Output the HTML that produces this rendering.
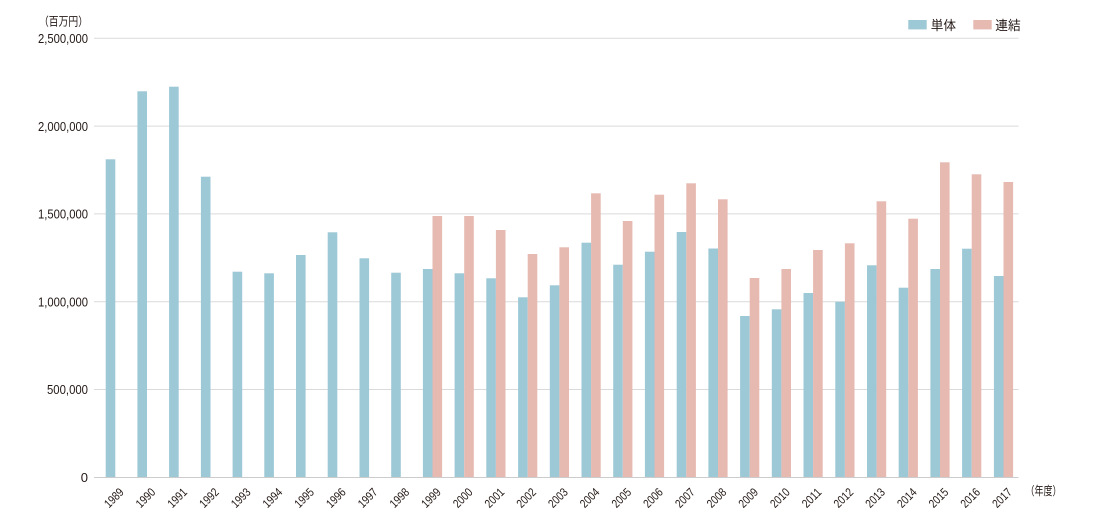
<!DOCTYPE html>
<html>
<head>
<meta charset="utf-8">
<style>
html,body{margin:0;padding:0;background:#fff;}
svg{display:block;}
text{font-family:"Liberation Sans Narrow","Liberation Sans","Noto Sans CJK JP",sans-serif;fill:#231815;}
.cjk{font-family:"Liberation Sans","Noto Sans CJK JP",sans-serif;}
</style>
</head>
<body>
<svg width="1100" height="520" viewBox="0 0 1100 520" xmlns="http://www.w3.org/2000/svg">
<!-- gridlines -->
<g stroke="#dadada" stroke-width="1">
<line x1="94" y1="38.3" x2="1018.5" y2="38.3"/>
<line x1="94" y1="126.1" x2="1018.5" y2="126.1"/>
<line x1="94" y1="213.9" x2="1018.5" y2="213.9"/>
<line x1="94" y1="301.7" x2="1018.5" y2="301.7"/>
<line x1="94" y1="389.5" x2="1018.5" y2="389.5"/>
</g>
<!-- y labels -->
<g font-size="13" text-anchor="end">
<text x="88" y="43" textLength="50" lengthAdjust="spacingAndGlyphs">2,500,000</text>
<text x="88" y="130.8" textLength="50" lengthAdjust="spacingAndGlyphs">2,000,000</text>
<text x="88" y="218.6" textLength="50" lengthAdjust="spacingAndGlyphs">1,500,000</text>
<text x="88" y="306.4" textLength="50" lengthAdjust="spacingAndGlyphs">1,000,000</text>
<text x="88" y="394.2" textLength="41" lengthAdjust="spacingAndGlyphs">500,000</text>
<text x="88" y="482">0</text>
</g>
<text class="cjk" x="39" y="25.5" font-size="12" textLength="49" lengthAdjust="spacingAndGlyphs">（百万円）</text>
<!-- blue bars -->
<g fill="#9dc8d6">
<rect x="105.7" y="159.3" width="9.6" height="318"/>
<rect x="137.4" y="91.3" width="9.6" height="386"/>
<rect x="169.1" y="86.7" width="9.6" height="390.6"/>
<rect x="200.9" y="176.7" width="9.6" height="300.6"/>
<rect x="232.6" y="271.7" width="9.6" height="205.6"/>
<rect x="264.3" y="273.3" width="9.6" height="204"/>
<rect x="296.0" y="255" width="9.6" height="222.3"/>
<rect x="327.7" y="232.3" width="9.6" height="245"/>
<rect x="359.5" y="258.3" width="9.6" height="219"/>
<rect x="391.2" y="272.7" width="9.6" height="204.6"/>
<rect x="422.9" y="269" width="9.6" height="208.3"/>
<rect x="454.6" y="273.3" width="9.6" height="204"/>
<rect x="486.3" y="278.3" width="9.6" height="199"/>
<rect x="518.1" y="297.3" width="9.6" height="180"/>
<rect x="549.8" y="285.3" width="9.6" height="192"/>
<rect x="581.5" y="242.7" width="9.6" height="234.6"/>
<rect x="613.2" y="264.7" width="9.6" height="212.6"/>
<rect x="644.9" y="251.7" width="9.6" height="225.6"/>
<rect x="676.7" y="232" width="9.6" height="245.3"/>
<rect x="708.4" y="248.5" width="9.6" height="228.8"/>
<rect x="740.1" y="316" width="9.6" height="161.3"/>
<rect x="771.8" y="309.3" width="9.6" height="168"/>
<rect x="803.5" y="293" width="9.6" height="184.3"/>
<rect x="835.3" y="301.7" width="9.6" height="175.6"/>
<rect x="867.0" y="265.3" width="9.6" height="212"/>
<rect x="898.7" y="287.7" width="9.6" height="189.6"/>
<rect x="930.4" y="269" width="9.6" height="208.3"/>
<rect x="962.1" y="248.7" width="9.6" height="228.6"/>
<rect x="993.9" y="276" width="9.6" height="201.3"/>
</g>
<!-- pink bars -->
<g fill="#e6b9b1">
<rect x="432.5" y="216" width="9.6" height="261.3"/>
<rect x="464.2" y="216" width="9.6" height="261.3"/>
<rect x="495.9" y="230" width="9.6" height="247.3"/>
<rect x="527.7" y="254" width="9.6" height="223.3"/>
<rect x="559.4" y="247.3" width="9.6" height="230"/>
<rect x="591.1" y="193.3" width="9.6" height="284"/>
<rect x="622.8" y="221" width="9.6" height="256.3"/>
<rect x="654.5" y="194.7" width="9.6" height="282.6"/>
<rect x="686.3" y="183.3" width="9.6" height="294"/>
<rect x="718.0" y="199.3" width="9.6" height="278"/>
<rect x="749.7" y="278" width="9.6" height="199.3"/>
<rect x="781.4" y="269" width="9.6" height="208.3"/>
<rect x="813.1" y="250" width="9.6" height="227.3"/>
<rect x="844.9" y="243.3" width="9.6" height="234"/>
<rect x="876.6" y="201.3" width="9.6" height="276"/>
<rect x="908.3" y="218.7" width="9.6" height="258.6"/>
<rect x="940.0" y="162.3" width="9.6" height="315"/>
<rect x="971.7" y="174.3" width="9.6" height="303"/>
<rect x="1003.5" y="182" width="9.6" height="295.3"/>
</g>
<!-- axis -->
<line x1="94" y1="477.5" x2="1018.5" y2="477.5" stroke="#cccccc" stroke-width="1"/>
<!-- x labels -->
<g font-size="12" text-anchor="end">
<text transform="translate(124.5,493) rotate(-45)" textLength="22" lengthAdjust="spacingAndGlyphs">1989</text>
<text transform="translate(156.2,493) rotate(-45)" textLength="22" lengthAdjust="spacingAndGlyphs">1990</text>
<text transform="translate(187.9,493) rotate(-45)" textLength="22" lengthAdjust="spacingAndGlyphs">1991</text>
<text transform="translate(219.7,493) rotate(-45)" textLength="22" lengthAdjust="spacingAndGlyphs">1992</text>
<text transform="translate(251.4,493) rotate(-45)" textLength="22" lengthAdjust="spacingAndGlyphs">1993</text>
<text transform="translate(283.1,493) rotate(-45)" textLength="22" lengthAdjust="spacingAndGlyphs">1994</text>
<text transform="translate(314.8,493) rotate(-45)" textLength="22" lengthAdjust="spacingAndGlyphs">1995</text>
<text transform="translate(346.5,493) rotate(-45)" textLength="22" lengthAdjust="spacingAndGlyphs">1996</text>
<text transform="translate(378.3,493) rotate(-45)" textLength="22" lengthAdjust="spacingAndGlyphs">1997</text>
<text transform="translate(410.0,493) rotate(-45)" textLength="22" lengthAdjust="spacingAndGlyphs">1998</text>
<text transform="translate(441.7,493) rotate(-45)" textLength="22" lengthAdjust="spacingAndGlyphs">1999</text>
<text transform="translate(473.4,493) rotate(-45)" textLength="22" lengthAdjust="spacingAndGlyphs">2000</text>
<text transform="translate(505.1,493) rotate(-45)" textLength="22" lengthAdjust="spacingAndGlyphs">2001</text>
<text transform="translate(536.9,493) rotate(-45)" textLength="22" lengthAdjust="spacingAndGlyphs">2002</text>
<text transform="translate(568.6,493) rotate(-45)" textLength="22" lengthAdjust="spacingAndGlyphs">2003</text>
<text transform="translate(600.3,493) rotate(-45)" textLength="22" lengthAdjust="spacingAndGlyphs">2004</text>
<text transform="translate(632.0,493) rotate(-45)" textLength="22" lengthAdjust="spacingAndGlyphs">2005</text>
<text transform="translate(663.7,493) rotate(-45)" textLength="22" lengthAdjust="spacingAndGlyphs">2006</text>
<text transform="translate(695.5,493) rotate(-45)" textLength="22" lengthAdjust="spacingAndGlyphs">2007</text>
<text transform="translate(727.2,493) rotate(-45)" textLength="22" lengthAdjust="spacingAndGlyphs">2008</text>
<text transform="translate(758.9,493) rotate(-45)" textLength="22" lengthAdjust="spacingAndGlyphs">2009</text>
<text transform="translate(790.6,493) rotate(-45)" textLength="22" lengthAdjust="spacingAndGlyphs">2010</text>
<text transform="translate(822.3,493) rotate(-45)" textLength="22" lengthAdjust="spacingAndGlyphs">2011</text>
<text transform="translate(854.1,493) rotate(-45)" textLength="22" lengthAdjust="spacingAndGlyphs">2012</text>
<text transform="translate(885.8,493) rotate(-45)" textLength="22" lengthAdjust="spacingAndGlyphs">2013</text>
<text transform="translate(917.5,493) rotate(-45)" textLength="22" lengthAdjust="spacingAndGlyphs">2014</text>
<text transform="translate(949.2,493) rotate(-45)" textLength="22" lengthAdjust="spacingAndGlyphs">2015</text>
<text transform="translate(980.9,493) rotate(-45)" textLength="22" lengthAdjust="spacingAndGlyphs">2016</text>
<text transform="translate(1012.7,493) rotate(-45)" textLength="22" lengthAdjust="spacingAndGlyphs">2017</text>
</g>
<text class="cjk" x="1025.5" y="495" font-size="12" textLength="36" lengthAdjust="spacingAndGlyphs">（年度）</text>
<!-- legend -->
<rect x="908.3" y="20" width="18.4" height="9.4" fill="#9dc8d6"/>
<text class="cjk" x="930.7" y="30" font-size="13" textLength="25.3" lengthAdjust="spacingAndGlyphs">単体</text>
<rect x="973.3" y="20" width="18.4" height="9.4" fill="#e6b9b1"/>
<text class="cjk" x="995.3" y="30" font-size="13" textLength="25.3" lengthAdjust="spacingAndGlyphs">連結</text>
</svg>
</body>
</html>
